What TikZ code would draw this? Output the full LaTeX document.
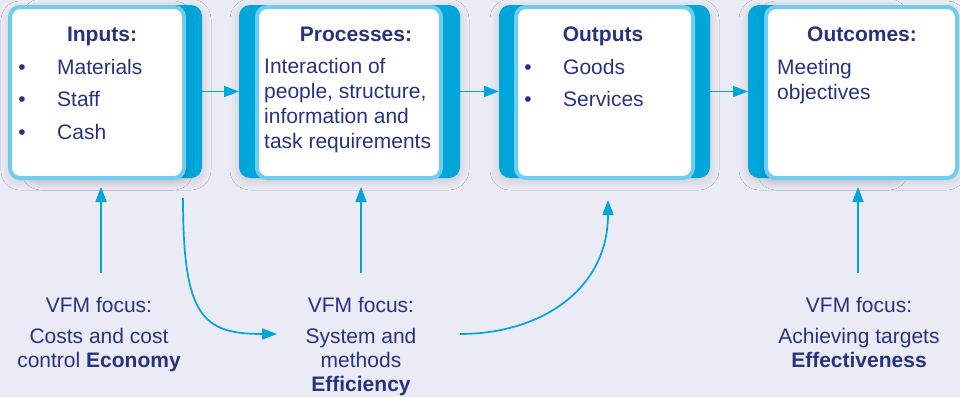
\documentclass[tikz,border=0pt]{standalone}
\usepackage{fontspec}
\setmainfont{Liberation Sans}
\usetikzlibrary{arrows.meta,shadows.blur}
\definecolor{bg}{HTML}{EBEBF5}
\definecolor{navy}{HTML}{27337F}
\definecolor{dcyan}{HTML}{00A5DA}
\definecolor{lcyan}{HTML}{6FCDEE}
\tikzset{
  softshadow/.style={blur shadow={shadow xshift=0pt, shadow yshift=-3pt, shadow blur radius=9pt, shadow blur steps=14, shadow opacity=14}},
  backbox/.style={fill=dcyan, draw=none, rounded corners=11pt, minimum height=173pt, inner sep=0pt, outer sep=0pt, softshadow},
  frontbox/.style={fill=white, draw=lcyan, line width=4pt, rounded corners=10pt, minimum height=171pt, inner sep=0pt},
  txt/.style={text=navy, font=\fontsize{21}{25}\selectfont, anchor=base west, inner sep=0pt},
  ttl/.style={text=navy, font=\fontsize{21}{25}\selectfont\bfseries, anchor=base, inner sep=0pt},
  foc/.style={text=navy, font=\fontsize{21}{24}\selectfont, anchor=base, inner sep=0pt},
  arr/.style={draw=dcyan, line width=1.7pt, -{Triangle[length=15pt,width=11pt]}},
}
\begin{document}
\begin{tikzpicture}[x=1pt,y=-1pt]
\fill[bg] (0,0) rectangle (960,397);
\useasboundingbox (0,0) rectangle (960,397);

% boxes
\node[backbox, minimum width=172pt] (inback) at (116,91.5) {};
\node[frontbox, softshadow, minimum width=174pt] (inbox) at (97,92.5) {};
\node[backbox, minimum width=221pt] (prback) at (349.5,91.5) {};
\node[frontbox, minimum width=184pt] (prbox) at (349,92.5) {};
\node[backbox, minimum width=211pt] (ouback) at (604.5,91.5) {};
\node[frontbox, minimum width=177pt] (oubox) at (604.5,92.5) {};
\node[backbox, minimum width=152pt] (ocback) at (824,91.5) {};
\node[frontbox, softshadow, minimum width=191pt] (ocbox) at (861.5,92.5) {};

% inputs text
\node[ttl] (int) at (102,41.5) {Inputs:};
\node[txt, anchor=base] (inb1) at (22,74) {•};
\node[txt] (in1) at (57,74) {Materials};
\node[txt, anchor=base] (inb2) at (22,106.5) {•};
\node[txt] (in2) at (57,106.5) {Staff};
\node[txt, anchor=base] (inb3) at (22,139) {•};
\node[txt] (in3) at (57,139) {Cash};

% processes text
\node[ttl] (prt) at (356,41.5) {Processes:};
\node[txt] (pr1) at (264,73.5) {Interaction of};
\node[txt] (pr2) at (264,98.5) {people, structure,};
\node[txt] (pr3) at (264,123.5) {information and};
\node[txt] (pr4) at (264,148.5) {task requirements};

% outputs text
\node[ttl] (out) at (603,41.5) {Outputs};
\node[txt, anchor=base] (oub1) at (528,74) {•};
\node[txt] (ou1) at (563,74) {Goods};
\node[txt, anchor=base] (oub2) at (528,106.5) {•};
\node[txt] (ou2) at (563,106.5) {Services};

% outcomes text
\node[ttl] (oct) at (862,41.5) {Outcomes:};
\node[txt] (oc1) at (777,74) {Meeting};
\node[txt] (oc2) at (777,99) {objectives};

% focus texts
\node[foc] (f1a) at (99,312) {VFM focus:};
\node[foc] (f1b) at (99,343.5) {Costs and cost};
\node[foc] (f1c) at (99,367.5) {control \textbf{Economy}};
\node[foc] (f2a) at (361,312) {VFM focus:};
\node[foc] (f2b) at (361,343.5) {System and};
\node[foc] (f2c) at (361,367.5) {methods};
\node[foc] (f2d) at (361,391.5) {\textbf{Efficiency}};
\node[foc] (f3a) at (859,312) {VFM focus:};
\node[foc] (f3b) at (859,343.5) {Achieving targets};
\node[foc] (f3c) at (859,367.5) {\textbf{Effectiveness}};

% horizontal arrows
\draw[arr] (inback.east) -- (prback.west);
\draw[arr] (prback.east) -- (ouback.west);
\draw[arr] (ouback.east) -- (ocback.west);

% vertical arrows
\coordinate (v1) at (101,273);
\coordinate (v2) at (361,273);
\coordinate (v3) at (858,273);
\draw[arr, shorten >=7pt] (v1) -- (v1 |- inbox.south);
\draw[arr, shorten >=7pt] (v2) -- (v2 |- prbox.south);
\draw[arr, shorten >=7pt] (v3) -- (v3 |- ocbox.south);

% curved arrows
\coordinate (c1s) at (183,198);
\coordinate (c1e) at (277,334);
\draw[arr] (c1s) .. controls (183,316) and (202,334) .. (c1e);
\coordinate (c2s) at (460,334);
\coordinate (c2e) at (608,200);
\draw[arr] (c2s) .. controls (540,334) and (608,290) .. (c2e);
\end{tikzpicture}
\end{document}
